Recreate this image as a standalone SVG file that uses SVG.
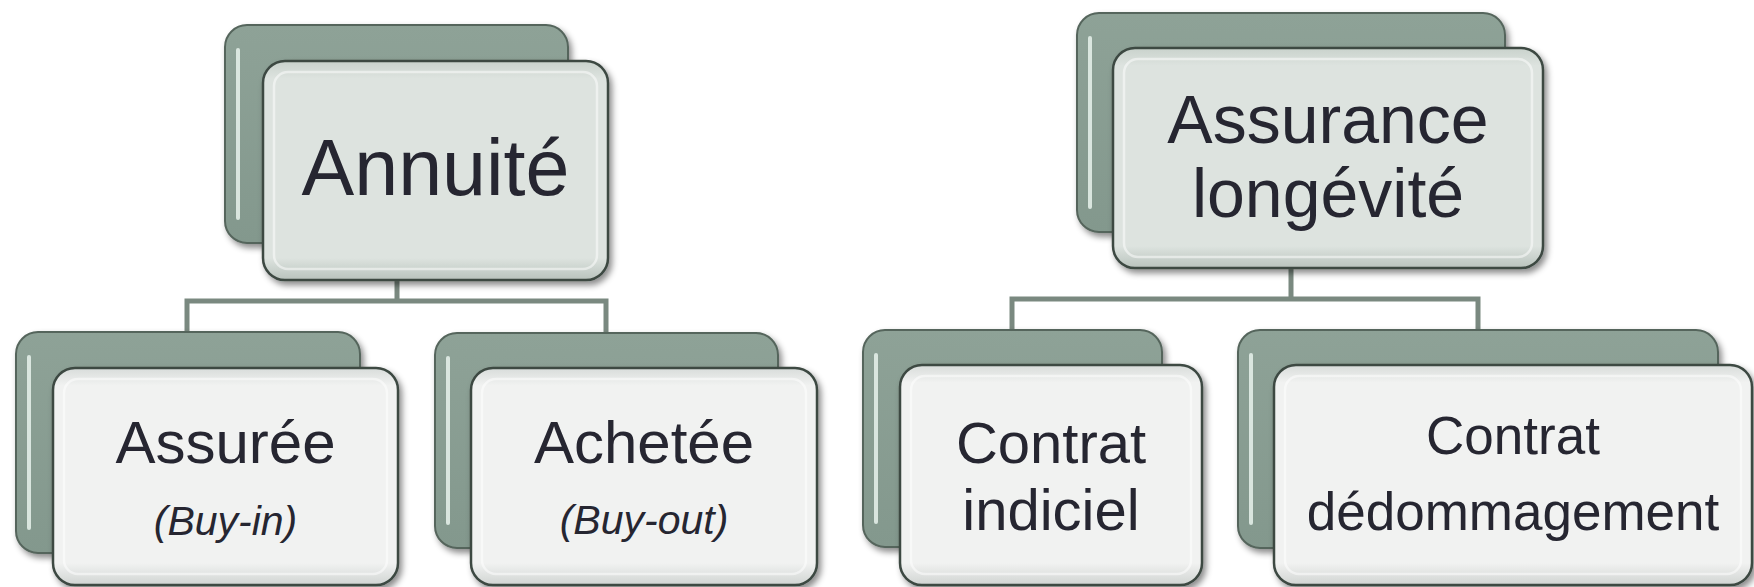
<svg xmlns="http://www.w3.org/2000/svg" width="1754" height="587" viewBox="0 0 1754 587">
<defs>
<linearGradient id="backG" x1="0" y1="0" x2="0" y2="1">
<stop offset="0" stop-color="#8ea297"/>
<stop offset="1" stop-color="#83988d"/>
</linearGradient>
<linearGradient id="frontTop" x1="0" y1="0" x2="0" y2="1">
<stop offset="0" stop-color="#c9d2cc"/>
<stop offset="0.08" stop-color="#dde3df"/>
<stop offset="0.9" stop-color="#dde3df"/>
<stop offset="1" stop-color="#b9c3bd"/>
</linearGradient>
<linearGradient id="frontChild" x1="0" y1="0" x2="0" y2="1">
<stop offset="0" stop-color="#d8dcda"/>
<stop offset="0.08" stop-color="#f1f2f1"/>
<stop offset="0.9" stop-color="#f1f2f1"/>
<stop offset="1" stop-color="#d0d4d2"/>
</linearGradient>
<filter id="sh" x="-10%" y="-10%" width="125%" height="130%">
<feDropShadow dx="3" dy="4" stdDeviation="3" flood-color="#000" flood-opacity="0.45"/>
</filter>
</defs>
<style>
.back{fill:url(#backG);stroke:#55655c;stroke-width:2}
.ftop{fill:url(#frontTop);stroke:#3c4842;stroke-width:2.5}
.fchild{fill:url(#frontChild);stroke:#3c4842;stroke-width:2.5}
.hl{fill:none;stroke:#e8f2ec;stroke-width:4;stroke-linecap:round;opacity:0.85}
.inner{fill:none;stroke:#ffffff;stroke-width:2.5;opacity:0.5}
.conn{fill:none;stroke:#7a8980;stroke-width:5}
text{font-family:"Liberation Sans",Arial,sans-serif;fill:#262631;text-anchor:middle}
.it{font-style:italic}
</style>
<rect width="1754" height="587" fill="#ffffff"/>
<g id="connectors">
<path class="conn" d="M397 280 V301 M187 333 V301 H606 V333"/>
<path class="conn" d="M1291 268 V299 M1012 330 V299 H1478 V330"/>
</g>
<g id="annuite">
<rect class="back" x="225" y="25" width="343" height="218" rx="22" filter="url(#sh)"/>
<path class="hl" d="M238 50 V218"/>
<rect class="ftop" x="263" y="61" width="345" height="219" rx="22" filter="url(#sh)"/>
<rect class="inner" x="274" y="72" width="323" height="197" rx="14"/>
<text x="435.5" y="195" font-size="79">Annuité</text>
</g>
<g id="assuree">
<rect class="back" x="16" y="332" width="344" height="221" rx="22" filter="url(#sh)"/>
<path class="hl" d="M29 357 V528"/>
<rect class="fchild" x="53" y="368" width="345" height="217" rx="22" filter="url(#sh)"/>
<rect class="inner" x="64" y="379" width="323" height="195" rx="14"/>
<text x="225.5" y="463" font-size="60">Assurée</text>
<text class="it" x="225.5" y="535" font-size="41">(Buy-in)</text>
</g>
<g id="achetee">
<rect class="back" x="435" y="333" width="343" height="215" rx="22" filter="url(#sh)"/>
<path class="hl" d="M448 358 V523"/>
<rect class="fchild" x="471" y="368" width="346" height="217" rx="22" filter="url(#sh)"/>
<rect class="inner" x="482" y="379" width="324" height="195" rx="14"/>
<text x="644" y="463" font-size="60">Achetée</text>
<text class="it" x="644" y="534" font-size="41">(Buy-out)</text>
</g>
<g id="assurance-longevite">
<rect class="back" x="1077" y="13" width="428" height="219" rx="22" filter="url(#sh)"/>
<path class="hl" d="M1090 38 V207"/>
<rect class="ftop" x="1113" y="48" width="430" height="220" rx="22" filter="url(#sh)"/>
<rect class="inner" x="1124" y="59" width="408" height="198" rx="14"/>
<text x="1328" y="143" font-size="68">Assurance</text>
<text x="1328" y="217" font-size="68">longévité</text>
</g>
<g id="contrat-indiciel">
<rect class="back" x="863" y="330" width="299" height="217" rx="22" filter="url(#sh)"/>
<path class="hl" d="M876 355 V522"/>
<rect class="fchild" x="900" y="365" width="302" height="220" rx="22" filter="url(#sh)"/>
<rect class="inner" x="911" y="376" width="280" height="198" rx="14"/>
<text x="1051" y="463" font-size="58">Contrat</text>
<text x="1051" y="530" font-size="58">indiciel</text>
</g>
<g id="contrat-dedommagement">
<rect class="back" x="1238" y="330" width="480" height="218" rx="22" filter="url(#sh)"/>
<path class="hl" d="M1251 355 V523"/>
<rect class="fchild" x="1274" y="365" width="478" height="220" rx="22" filter="url(#sh)"/>
<rect class="inner" x="1285" y="376" width="456" height="198" rx="14"/>
<text x="1513" y="454" font-size="53">Contrat</text>
<text x="1513" y="530" font-size="53">dédommagement</text>
</g>
</svg>
